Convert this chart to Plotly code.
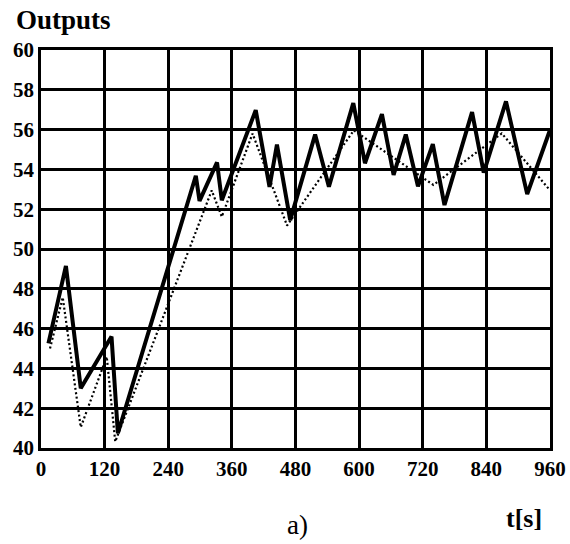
import plotly.graph_objects as go

# Solid output (measured)
t_solid = [14, 47, 75, 133, 145, 292, 299, 332, 341, 405, 431, 445, 470, 517, 543, 589, 611, 643, 665, 688, 711, 739, 761, 813, 835, 877, 917, 960]
y_solid = [45.26, 49.15, 43.0, 45.6, 40.74, 53.68, 52.42, 54.35, 52.45, 56.98, 53.12, 55.25, 51.45, 55.75, 53.13, 57.33, 54.31, 56.78, 53.72, 55.75, 53.15, 55.27, 52.21, 56.88, 53.84, 57.42, 52.76, 55.98]

# Dotted output (reference / model)
t_dot = [17, 41, 75, 124, 140, 322, 341, 399, 464, 590, 740, 869, 960]
y_dot = [45.0, 47.57, 41.04, 44.59, 40.32, 52.94, 51.62, 55.8, 51.18, 55.96, 53.22, 55.81, 52.95]

x_ticks = [0, 120, 240, 360, 480, 600, 720, 840, 960]
y_ticks = [40, 42, 44, 46, 48, 50, 52, 54, 56, 58, 60]

FONT = "Liberation Serif"

fig = go.Figure()
fig.add_trace(go.Scatter(x=t_dot, y=y_dot, mode="lines",
                         line=dict(color="black", width=2.2, dash="2px,2.5px"),
                         showlegend=False, hoverinfo="skip"))
fig.add_trace(go.Scatter(x=t_solid, y=y_solid, mode="lines",
                         line=dict(color="black", width=4),
                         showlegend=False, hoverinfo="skip"))

axis_common = dict(showgrid=True, gridcolor="black", gridwidth=2.5,
                   showline=True, linecolor="black", linewidth=2.5, mirror=True,
                   zeroline=False, ticks="", automargin=False,
                   tickfont=dict(family=FONT, size=21, color="black"))

fig.update_xaxes(range=[0, 960], tickvals=x_ticks,
                 ticktext=[f"<b>{v}</b>" for v in x_ticks], **axis_common)
fig.update_yaxes(range=[40, 60], tickvals=y_ticks,
                 ticktext=[f"<b>{v}</b>" for v in y_ticks], **axis_common)

fig.update_layout(
    template="none",
    width=570, height=544,
    margin=dict(l=41, r=20, t=50, b=96),
    plot_bgcolor="white", paper_bgcolor="white",
    font=dict(family=FONT, color="black"),
    annotations=[
        dict(text="<b>Outputs</b>", xref="paper", yref="paper",
             x=(14 - 41) / 509, y=(448 - 20) / 398, xanchor="left", yanchor="middle",
             showarrow=False, font=dict(family=FONT, size=27, color="black")),
        dict(text="a)", xref="paper", yref="paper",
             x=(297 - 41) / 509, y=(448 - 525) / 398, xanchor="center", yanchor="middle",
             showarrow=False, font=dict(family=FONT, size=27, color="black")),
        dict(text="<b>t[s]</b>", xref="paper", yref="paper",
             x=(524 - 41) / 509, y=(448 - 518) / 398, xanchor="center", yanchor="middle",
             showarrow=False, font=dict(family=FONT, size=26, color="black")),
    ],
)

post = (
    "var s=document.createElement('style');"
    "s.innerHTML='html,body{margin:0;padding:0;overflow:hidden} "
    "svg text{font-family:\"Liberation Serif\",\"Times New Roman\",serif !important}';"
    "document.head.appendChild(s);"
    "var gd=document.getElementById('{plot_id}');"
    "Plotly.react(gd, gd.data, gd.layout);"
)

fig.write_html("out.html", config={"displayModeBar": False}, post_script=post)
